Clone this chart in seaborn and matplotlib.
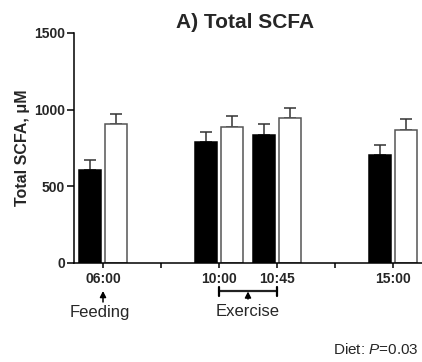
import matplotlib
matplotlib.use("Agg")
import matplotlib.pyplot as plt
import matplotlib.transforms as mtransforms
import seaborn as sns
import pandas as pd

# ---- data ----
slot_order = ["06:00", "gap1", "10:00", "10:45", "gap2", "15:00"]
tick_labels = ["06:00", "", "10:00", "10:45", "", "15:00"]
sample_times = ["06:00", "10:00", "10:45", "15:00"]
diets = ["Diet 1", "Diet 2"]
diet1_mean = [605, 787, 838, 703]
diet1_sem = [64, 70, 66, 69]
diet2_mean = [905, 888, 943, 867]
diet2_sem = [65, 69, 65, 72]
y_ticks = [0, 500, 1000, 1500]

df = pd.DataFrame({
    "time": sample_times * 2,
    "diet": [diets[0]] * 4 + [diets[1]] * 4,
    "scfa": diet1_mean + diet2_mean,
})
sems = {diets[0]: diet1_sem, diets[1]: diet2_sem}

sns.set_style("ticks")
plt.rcParams["font.family"] = ["Liberation Sans", "DejaVu Sans"]
plt.rcParams["mathtext.fontset"] = "custom"
plt.rcParams["mathtext.it"] = "Liberation Sans:italic"
plt.rcParams["mathtext.rm"] = "Liberation Sans"

fig = plt.figure(figsize=(4.22, 3.62), dpi=100)
ax = fig.add_axes([74 / 422, 1 - 263 / 362, (422 - 74) / 422, (263 - 33) / 362])

sns.barplot(data=df, x="time", y="scfa", hue="diet", order=slot_order,
            hue_order=diets, palette={diets[0]: "black", diets[1]: "white"},
            width=0.92, gap=0.17, errorbar=None, legend=False, ax=ax,
            zorder=2)

edge = {diets[0]: "black", diets[1]: "#555555"}
for cont, d in zip(ax.containers, diets):
    xs, hs = [], []
    for bar in cont:
        bar.set_edgecolor(edge[d])
        bar.set_linewidth(1.1)
        xs.append(bar.get_x() + bar.get_width() / 2)
        hs.append(bar.get_height())
    ax.errorbar(xs, hs, yerr=[[0] * len(hs), sems[d]], fmt="none",
                ecolor="#333333", elinewidth=1.1, capsize=4, capthick=1.1,
                zorder=1)

ax.set_xlim(-0.5, 5.5)
ax.set_ylim(0, 1500)
ax.set_yticks(y_ticks)
ax.set_xticks(range(len(slot_order)))
ax.set_xticklabels(tick_labels)
ax.set_xlabel("")
ax.set_ylabel("Total SCFA, \u03bcM", fontsize=11.5, fontweight="bold", labelpad=3)
for lab in ax.get_xticklabels() + ax.get_yticklabels():
    lab.set_fontweight("bold")
    lab.set_fontsize(10)
ax.tick_params(axis="y", direction="out", length=5, width=1.1,
               color="black", pad=1.5)
ax.tick_params(axis="x", direction="out", length=3.3, width=1.1,
               color="black", pad=3.3)
sns.despine(ax=ax)
for s in ["left", "bottom"]:
    ax.spines[s].set_linewidth(1.1)
    ax.spines[s].set_color("black")

fig.text(245 / 422, 1 - 22 / 362, "A) Total SCFA", ha="center", va="center",
         fontsize=15, fontweight="bold")

trans = mtransforms.blended_transform_factory(ax.transData, ax.transAxes)

def fy(py):
    return (263 - py) / 230

# Feeding arrow
ax.annotate("", xy=(0, fy(291)), xytext=(0, fy(302)), xycoords=trans,
            textcoords=trans, annotation_clip=False,
            arrowprops=dict(arrowstyle="-|>,head_length=0.35,head_width=0.18",
                            color="black", lw=1.1, shrinkA=0, shrinkB=0))
ax.text(-0.05, fy(312), "Feeding", transform=trans, ha="center", va="center",
        fontsize=12)

# Exercise bracket
ax.plot([2, 3], [fy(290.5), fy(290.5)], transform=trans, color="#222222",
        lw=1.6, clip_on=False)
for xe in (2, 3):
    ax.plot([xe, xe], [fy(287), fy(296)], transform=trans, color="black",
            lw=1.6, clip_on=False)
ax.annotate("", xy=(2.5, fy(291.5)), xytext=(2.5, fy(299)), xycoords=trans,
            textcoords=trans, annotation_clip=False,
            arrowprops=dict(arrowstyle="-|>,head_length=0.35,head_width=0.18",
                            color="black", lw=1.1, shrinkA=0, shrinkB=0))
ax.text(2.5, fy(311.5), "Exercise", transform=trans, ha="center", va="center",
        fontsize=12)

fig.text(419 / 422, 1 - 349 / 362, "Diet: $\\mathit{P}$=0.03", ha="right",
         va="center", fontsize=11)

fig.savefig("out.png", dpi=100)
